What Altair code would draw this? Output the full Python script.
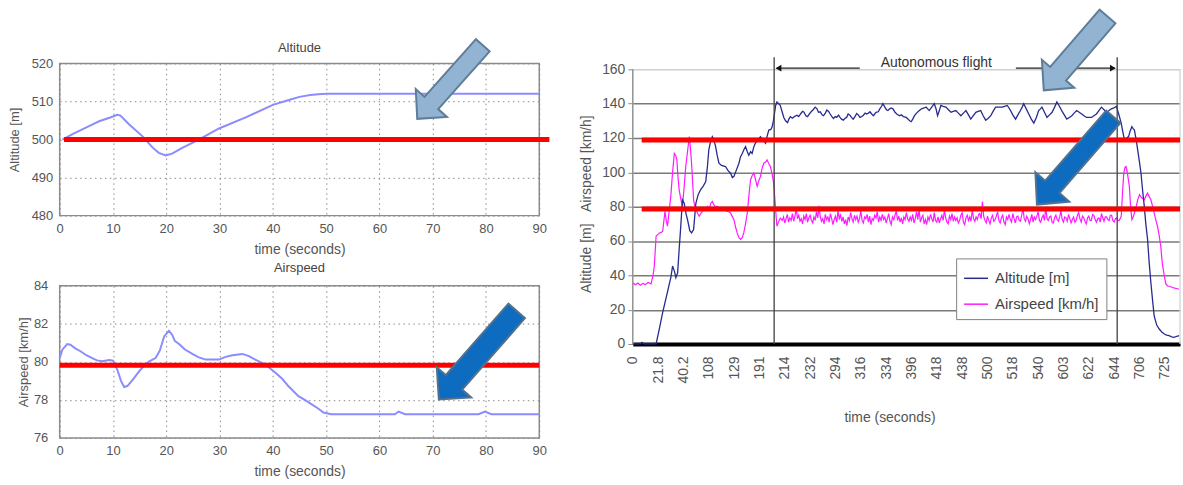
import altair as alt
import pandas as pd

# ---------------- simulation panels (left) ----------------
SIM_ALT_T = [0.5, 2.5, 5.5, 7.4, 9.5, 10.8, 11.4, 13.0, 15.5, 17.5, 18.6, 19.9, 21.1, 23.0,
             26.1, 29.9, 34.9, 40.0, 43.0, 45.0, 47.0, 48.5, 50.0, 60.0, 70.0, 80.0, 90.0]
SIM_ALT_V = [500.0, 501.5, 503.5, 504.8, 505.8, 506.5, 506.3, 504.0, 500.9, 497.8, 496.5, 495.8,
             496.3, 497.8, 500.0, 502.9, 505.8, 509.1, 510.4, 511.2, 511.7, 511.9, 512.0, 512.0,
             512.0, 512.0, 512.0]

SIM_AS_T = [0, 0.5, 1.4, 2, 3, 3.9, 5, 6.1, 7, 8, 9.3, 10, 10.8, 11.5, 12.1, 12.7, 13.8, 14.9,
            16, 16.8, 18, 18.8, 19.6, 20.5, 21.1, 21.6, 22.4, 23.5, 24.9, 26, 27.4, 29.9, 31,
            32.4, 34.3, 35.5, 36.7, 38.6, 40.5, 41.8, 42.9, 44.8, 46, 47.3, 48.5, 49.5, 51,
            62.9, 63.6, 64.8, 78.6, 79.8, 81, 90]
SIM_AS_V = [80.2, 80.64, 80.94, 80.9, 80.7, 80.56, 80.35, 80.2, 80.08, 80.03, 80.1, 80.07, 79.6,
            79.0, 78.68, 78.73, 79.1, 79.5, 79.85, 80.03, 80.2, 80.6, 81.34, 81.63, 81.43, 81.1,
            80.94, 80.65, 80.42, 80.25, 80.12, 80.12, 80.25, 80.35, 80.42, 80.3, 80.12, 79.86,
            79.43, 79.1, 78.73, 78.2, 78.0, 77.77, 77.55, 77.34, 77.25, 77.25, 77.39, 77.25,
            77.25, 77.39, 77.25, 77.25]

ALT_SETPOINT = 500
AS_SETPOINT = 79.82

# ---------------- flight log (right) ----------------
# x is the sample position on the category axis; labels are the logged times
FLIGHT_TICKS = ["0", "21.8", "40.2", "108", "129", "191", "214", "232", "294", "316", "334",
                "396", "418", "438", "500", "518", "540", "603", "622", "644", "706", "725"]

LOG_ALT = [
    (0, 0), (0.3, 0), (0.36, 1), (0.45, 0), (0.92, 0), (1.05, 9), (1.18, 18.4), (1.35, 29),
    (1.5, 38.6), (1.57, 45.4), (1.65, 42), (1.7, 38.6), (1.77, 41.5), (1.83, 55), (1.9, 70),
    (1.96, 84), (2.03, 82), (2.1, 76), (2.16, 72.5), (2.25, 66), (2.32, 64.7), (2.4, 66.7),
    (2.49, 82), (2.58, 87), (2.68, 90), (2.78, 92), (2.88, 94.7), (2.95, 104), (3.0, 113),
    (3.07, 118), (3.14, 120.8), (3.2, 119), (3.27, 115), (3.33, 110), (3.4, 105.3), (3.5, 104),
    (3.66, 103.4), (3.76, 101), (3.86, 99.5), (3.93, 97), (3.99, 97.6), (4.08, 101),
    (4.19, 105.3), (4.25, 109), (4.32, 111), (4.38, 113), (4.45, 115), (4.52, 112), (4.58, 110),
    (4.65, 112), (4.71, 111), (4.78, 115), (4.84, 117), (4.94, 119), (5.04, 120.8), (5.14, 119),
    (5.24, 117), (5.3, 121), (5.37, 124.6), (5.45, 125), (5.5, 126.6), (5.55, 130), (5.59, 134),
    (5.64, 139), (5.69, 141),
    # autonomous segment
    (5.82, 139), (5.9, 135), (5.96, 132), (6.03, 130), (6.11, 129), (6.16, 131), (6.22, 132.4),
    (6.3, 131.5), (6.38, 132.5), (6.48, 133.3), (6.55, 132.5), (6.62, 134), (6.7, 135.5),
    (6.76, 135), (6.83, 133), (6.9, 132.5), (6.97, 134), (7.05, 135.5), (7.12, 136.5), (7.2, 138),
    (7.27, 137), (7.33, 135), (7.4, 135.3), (7.47, 133.5), (7.53, 133), (7.6, 134.5),
    (7.66, 136.3), (7.73, 135.5), (7.79, 134), (7.86, 132.5), (7.92, 131.4), (7.99, 132.5),
    (8.05, 132), (8.12, 133.3), (8.18, 132), (8.24, 131), (8.31, 130.4), (8.38, 131.5),
    (8.44, 132), (8.5, 134), (8.57, 133.3), (8.63, 132), (8.7, 131), (8.77, 132.5),
    (8.84, 134.3), (8.9, 133.5), (8.97, 132), (9.04, 132.5), (9.1, 133.3), (9.17, 134.5),
    (9.23, 134), (9.3, 134.5), (9.36, 135.3), (9.43, 134), (9.5, 133), (9.6, 135), (9.69, 135.3),
    (9.75, 137), (9.82, 138.5), (9.87, 140), (9.95, 138), (10.01, 136.5), (10.07, 136),
    (10.14, 137), (10.2, 137.5), (10.27, 137), (10.35, 135), (10.42, 134), (10.53, 133),
    (10.6, 133.5), (10.68, 132.5), (10.79, 132), (10.87, 131), (10.93, 130), (10.99, 129.5),
    (11.05, 131), (11.12, 133), (11.2, 134.5), (11.31, 136), (11.4, 137), (11.5, 137.5),
    (11.58, 138), (11.64, 137), (11.7, 136), (11.8, 138), (11.9, 140), (11.97, 137),
    (12.03, 133), (12.1, 136), (12.16, 139), (12.25, 138.5), (12.36, 138), (12.46, 136.5),
    (12.56, 135), (12.65, 135.5), (12.75, 136), (12.85, 134.5), (12.95, 133), (13.05, 134.5),
    (13.15, 136), (13.25, 133.5), (13.34, 131), (13.44, 133), (13.54, 135), (13.63, 135.5),
    (13.73, 136), (13.83, 133), (13.93, 130.4), (14.03, 131.5), (14.13, 133), (14.22, 135.5),
    (14.32, 138), (14.45, 138), (14.58, 138), (14.68, 138.5), (14.78, 139), (14.85, 137.5),
    (14.91, 136), (15.0, 133.5), (15.11, 131), (15.2, 133.5), (15.3, 136), (15.37, 138),
    (15.43, 140), (15.53, 137), (15.63, 134), (15.73, 131), (15.83, 128.7), (15.93, 132),
    (16.02, 136), (16.09, 137), (16.15, 138), (16.25, 135), (16.35, 132), (16.45, 133.5),
    (16.55, 135), (16.65, 138), (16.74, 141), (16.84, 138.5), (16.93, 136), (17.03, 133.5),
    (17.13, 131), (17.23, 132), (17.33, 133), (17.42, 134.5), (17.52, 136), (17.62, 135),
    (17.72, 134), (17.81, 133), (17.91, 132), (18.01, 132), (18.11, 132), (18.2, 133),
    (18.3, 134), (18.4, 136), (18.5, 138), (18.6, 136.5), (18.7, 135), (18.8, 136),
    (18.89, 137), (18.99, 137.5), (19.09, 138.5), (19.14, 136),
    # landing
    (19.18, 134), (19.28, 128.5), (19.35, 123), (19.41, 118.8), (19.49, 120), (19.57, 120.8),
    (19.63, 124), (19.7, 126.6), (19.75, 125.5), (19.8, 124.6), (19.87, 119), (19.93, 113),
    (20.0, 106), (20.06, 99.5), (20.12, 90), (20.19, 80.2), (20.25, 70), (20.32, 60.9),
    (20.38, 48), (20.45, 35.7), (20.52, 25), (20.58, 16.4), (20.68, 11), (20.78, 8.7),
    (20.88, 7), (20.98, 5.8), (21.07, 5.2), (21.17, 4.8), (21.27, 4.2), (21.37, 3.9),
    (21.47, 4.5), (21.57, 4.8),
]

LOG_AS_TAKEOFF = [
    (0, 35.7), (0.1, 34.5), (0.2, 35.5), (0.3, 34.2), (0.4, 35.3), (0.5, 34.6), (0.6, 35.8),
    (0.72, 35), (0.8, 40), (0.85, 45.4), (0.92, 62.8), (1.0, 64), (1.05, 64.7), (1.12, 65),
    (1.18, 65.7), (1.23, 72), (1.27, 77.3), (1.32, 72), (1.37, 68.6), (1.44, 78), (1.5, 86),
    (1.57, 100), (1.64, 111), (1.69, 110), (1.74, 107.2), (1.78, 98), (1.83, 89.8), (1.9, 84),
    (1.96, 80.2), (2.03, 92), (2.09, 103.4), (2.16, 112), (2.23, 120.8), (2.27, 115),
    (2.32, 105.3), (2.36, 95), (2.4, 84), (2.45, 80), (2.49, 78.3), (2.56, 76), (2.62, 74.4),
    (2.68, 76), (2.75, 77.3), (2.82, 79), (2.88, 78.5), (2.95, 80.2), (3.02, 79), (3.08, 82),
    (3.14, 83.1), (3.2, 81), (3.27, 80), (3.34, 80.2), (3.42, 79), (3.5, 79.5), (3.6, 78.3),
    (3.7, 77.5), (3.78, 77), (3.86, 76.3), (3.92, 74.5), (3.99, 72.5), (4.06, 68), (4.12, 64.7),
    (4.19, 62), (4.25, 60.9), (4.32, 62), (4.38, 64.7), (4.45, 70), (4.52, 76.3), (4.58, 86),
    (4.65, 95.7), (4.71, 98), (4.78, 99.5), (4.84, 96), (4.91, 91.8), (4.97, 95), (5.04, 97.6),
    (5.1, 102), (5.17, 105.3), (5.24, 106), (5.3, 107.2), (5.37, 105), (5.43, 103.4), (5.5, 99),
    (5.56, 93.7), (5.6, 86), (5.63, 80.2), (5.66, 74), (5.69, 68.6), (5.75, 71), (5.82, 73.4),
]
# airspeed during autonomous flight, one sample every 0.05 positions from 5.9
AS_FLIGHT_START = 5.9
AS_FLIGHT_STEP = 0.05
LOG_AS_FLIGHT = [
    72, 74, 70.5, 73, 75.5, 71, 73.5, 72, 76, 71.5, 74.5, 79, 73, 75, 71.5, 73, 70, 74.5, 72.5, 76,
    71, 73.5, 75, 72, 70.5, 74, 72, 77, 73.5, 80.5, 74, 71.5, 73, 70, 75.5, 72.5, 74, 71, 76, 73,
    69.5, 72.5, 74.5, 71, 77.5, 73, 75, 71.5, 74, 70, 72.5, 69, 74, 72, 76.5, 73, 71, 75, 72.5, 74.5,
    71, 73, 77.5, 72, 70.5, 74, 73, 75.5, 71, 74.5, 69.5, 73, 72, 75, 73.5, 77, 71, 74, 72, 75.5,
    72.5, 74, 70.5, 73, 76, 71.5, 69.5, 74, 72.5, 75, 77.5, 72, 74.5, 71, 73.5, 70, 74, 72.5, 76.5, 73,
    71.5, 74, 72, 75.5, 70.5, 73, 77, 72.5, 78.5, 71, 73.5, 75, 70, 72.5, 69.5, 74, 72, 75.5, 73, 71,
    76.5, 72, 71, 74, 70.5, 73, 75, 72, 78, 73.5, 71, 70, 74.5, 72.5, 76, 71.5, 74, 72, 73.5, 70.5,
    72, 75, 76.5, 71, 69.5, 73.5, 75, 72, 74, 71.5, 78.5, 73, 71.5, 74, 72.5, 75.5, 76, 73, 83, 74.5,
    72, 70.5, 74.5, 72, 70, 73.5, 75, 71.5, 72.5, 74.5, 77, 72, 70.5, 73.5, 75, 71, 69.5, 74, 72.5, 75.5,
    72.5, 71, 76, 73, 70.5, 74, 74.5, 72, 71.5, 75, 79, 73, 71.5, 74.5, 73, 70, 72.5, 75.5, 71, 74,
    72.5, 74.5, 77, 72, 71, 73.5, 75, 72, 79.5, 73, 72, 74, 74.5, 71, 70.5, 73.5, 75, 72.5, 71.5, 74,
    77.5, 72.5, 71, 74, 73.5, 71.5, 75.5, 73, 70.5, 72.5, 74, 71, 72, 75, 76.5, 73, 71, 74.5, 73.5, 71.5,
    70, 73.5, 74.5, 72, 72, 75.5, 75, 72.5, 71, 73, 73.5, 71, 76, 73.5, 71.5, 74, 74, 72.5, 72, 75,
    75, 72, 71, 73, 73.5, 72,
]
LOG_AS_LANDING = [
    (19.2, 72), (19.28, 74.4), (19.33, 88), (19.38, 99.5), (19.43, 103), (19.47, 103.4),
    (19.53, 99), (19.6, 91.8), (19.65, 80), (19.7, 72.5), (19.75, 74), (19.8, 76.3),
    (19.87, 80), (19.93, 84), (20.0, 87), (20.04, 86), (20.1, 85), (20.19, 84), (20.25, 86),
    (20.32, 87.9), (20.38, 86), (20.45, 84), (20.52, 80), (20.58, 76.3), (20.65, 72),
    (20.71, 68.6), (20.78, 63), (20.84, 57), (20.9, 47), (20.98, 39.6), (21.04, 35),
    (21.11, 33.8), (21.2, 33.5), (21.3, 32.9), (21.4, 32.5), (21.5, 32.2), (21.57, 31.9),
]
LOG_SETPOINTS = [118.8, 78.7]
AUTO_START, AUTO_END = 5.58, 19.12
ALT_NAME, AS_NAME = "Altitude [m]", "Airspeed [km/h]"

# ---------------- styling ----------------
FONT = "Liberation Sans"
GREY_TXT = "#555555"
SIM_BLUE = "#8a8cff"
NAVY = "#262b8f"
MAGENTA = "#ff1aff"
RED = "#ff0000"
LIGHT_FILL, LIGHT_EDGE = "#93b3d3", "#5f7d99"
DARK_FILL, DARK_EDGE = "#0d6cc0", "#52718e"


def arrow_shape(length, shaft, head, head_len):
    """Block arrow pointing to +x inside the [-1, 1] symbol box."""
    h = length / 2.0
    s, w, b = shaft / 2.0 / h, head / 2.0 / h, 1 - head_len / h
    return (f"M -1 {-s:.3f} L {b:.3f} {-s:.3f} L {b:.3f} {-w:.3f} L 1 0 "
            f"L {b:.3f} {w:.3f} L {b:.3f} {s:.3f} L -1 {s:.3f} Z")


def block_arrow(xf, yf, xenc, yenc, x, y, length, angle, shaft, head, head_len, fill, edge):
    return alt.Chart(pd.DataFrame({xf: [x], yf: [y]})).mark_point(
        shape=arrow_shape(length, shaft, head, head_len), size=length ** 2, angle=angle,
        filled=True, fill=fill, stroke=edge, strokeWidth=2, opacity=1, fillOpacity=1,
    ).encode(x=xenc, y=yenc)


def sim_axes(ydom, yvals, ytitle, ylabpad, ytitlepad):
    x = alt.X("t:Q", scale=alt.Scale(domain=[0, 90], nice=False),
              axis=alt.Axis(values=list(range(0, 91, 10)), grid=True, gridDash=[1.5, 3.5],
                            gridColor="#8a8a8a", ticks=False, domain=False, labelFontSize=13,
                            labelColor=GREY_TXT, labelPadding=7, labelFlush=False,
                            labelOverlap=False, title="time (seconds)", titleFontSize=14,
                            titleFontWeight="normal", titleColor=GREY_TXT, titlePadding=7))
    y = alt.Y("v:Q", scale=alt.Scale(domain=ydom, nice=False, zero=False),
              axis=alt.Axis(values=yvals, grid=True, gridDash=[1.5, 3.5], gridColor="#8a8a8a",
                            ticks=False, domain=False, labelFontSize=13, labelColor=GREY_TXT,
                            labelPadding=ylabpad, labelOverlap=False, title=ytitle,
                            titleFontSize=13, titleFontWeight="normal", titleColor=GREY_TXT,
                            titlePadding=ytitlepad))
    return x, y


def sim_panel(ts, vs, ydom, yvals, ytitle, ylabpad, ytitlepad, setpoint, ref_from, ref_to,
              arrow, title, title_at):
    x, y = sim_axes(ydom, yvals, ytitle, ylabpad, ytitlepad)
    line = alt.Chart(pd.DataFrame({"t": ts, "v": vs})).mark_line(
        color=SIM_BLUE, strokeWidth=2).encode(x=x, y=y)
    ref = alt.Chart(pd.DataFrame({"t": [ref_from], "t2": [ref_to], "v": [setpoint]})).mark_rule(
        color=RED, strokeWidth=5).encode(x=x, x2="t2:Q", y=y)
    heading = alt.Chart(pd.DataFrame({"t": [45], "v": [title_at]})).mark_text(
        text=title, fontSize=13, color="#444444", font=FONT, baseline="middle").encode(x=x, y=y)
    pointer = block_arrow("t", "v", x, y, *arrow)
    return alt.layer(line, ref, heading, pointer).properties(
        width=W_L, height=H_L,
        view=alt.ViewBackground(stroke="#8c8c8c", strokeWidth=1.5),
    )


W_L, H_L = 482, 153

top = sim_panel(SIM_ALT_T, SIM_ALT_V, [480, 520], [480, 490, 500, 510, 520], "Altitude [m]",
                7, 10, ALT_SETPOINT, 0.8, 91.9,
                (73.25, 515.1, 99, 131.7, 18.4, 42, 21.3, LIGHT_FILL, LIGHT_EDGE),
                "Altitude", 524.0)
bottom = sim_panel(SIM_AS_T, SIM_AS_V, [76, 84], [76, 78, 80, 82, 84], "Airspeed [km/h]",
                   12, 3, AS_SETPOINT, 0, 90,
                   (78.46, 80.35, 118.5, 131.3, 22, 46, 23, DARK_FILL, DARK_EDGE),
                   "Airspeed", 84.93)

# ---------------- flight log chart ----------------
W_R, H_R = 550, 282
Y_TOP = 160 * H_R / (H_R - 6)
X_END = 21.6

as_pts = LOG_AS_TAKEOFF + [(AS_FLIGHT_START + i * AS_FLIGHT_STEP, v)
                           for i, v in enumerate(LOG_AS_FLIGHT)] + LOG_AS_LANDING
as_df = pd.DataFrame(as_pts, columns=["u", "v"]).assign(series=AS_NAME)
alt_df = pd.DataFrame(LOG_ALT, columns=["u", "v"]).assign(series=ALT_NAME)

label_expr = "[" + ",".join(f"'{t}'" for t in FLIGHT_TICKS) + "][datum.value]"
xr = alt.X("u:Q", scale=alt.Scale(domain=[0, X_END], nice=False, zero=False),
           axis=alt.Axis(values=list(range(len(FLIGHT_TICKS))), labelExpr=label_expr,
                         labelAngle=270, labelFontSize=14, labelColor=GREY_TXT, labelPadding=12,
                         labelOverlap=False, labelFlush=False, ticks=False, grid=False,
                         domainColor="#000000", domainWidth=4, title="time (seconds)",
                         titleFontSize=14, titleFontWeight="normal", titleColor=GREY_TXT,
                         titlePadding=28, titleX=258))
yr = alt.Y("v:Q", scale=alt.Scale(domain=[0, Y_TOP], nice=False),
           axis=alt.Axis(values=list(range(0, 161, 20)), grid=True,
                         gridColor=alt.condition("datum.value >= 160", alt.value("#cfcfcf"),
                                                 alt.value("#7a7a7a")),
                         gridWidth=1.5, domain=False, tickColor="#8a8a8a", tickSize=5,
                         labelFontSize=14, labelColor=GREY_TXT, labelPadding=3,
                         labelOverlap=False,
                         title="Altitude [m]\u00a0\u00a0\u00a0Airspeed [km/h]", titleFontSize=14,
                         titleFontWeight="normal", titleColor=GREY_TXT, titlePadding=8))
colour = alt.Color("series:N",
                   scale=alt.Scale(domain=[ALT_NAME, AS_NAME], range=[NAVY, MAGENTA]),
                   legend=alt.Legend(title=None, orient="none", legendX=325, legendY=196,
                                     symbolType="stroke", symbolSize=576, symbolStrokeWidth=1.5,
                                     labelFontSize=15, labelColor="#444444", labelFont=FONT,
                                     strokeColor="#808080", fillColor="white", padding=7,
                                     rowPadding=5, labelOffset=6))


def log_layer(df):
    return alt.Chart(df)


as_log = log_layer(as_df).mark_line(strokeWidth=1.2).encode(x=xr, y=yr, color=colour)
alt_log = log_layer(alt_df).mark_line(strokeWidth=1.3).encode(x=xr, y=yr, color=colour)

frame_lines = log_layer(pd.DataFrame({
    "u": [0, X_END], "v": [0, 0], "v2": [160, 160], "c": ["#8a8a8a", "#d6d6d6"]})).mark_rule(
    strokeWidth=1.4).encode(x=xr, y=yr, y2="v2:Q", color=alt.Color("c:N", scale=None))
phase_lines = log_layer(pd.DataFrame({
    "u": [AUTO_START, AUTO_END], "v": [0, 0], "v2": [167, 167]})).mark_rule(
    color="#404040", strokeWidth=1.3).encode(x=xr, y=yr, y2="v2:Q")
span_lines = log_layer(pd.DataFrame({
    "u": [AUTO_START + 0.1, 15.12], "u2": [8.96, AUTO_END - 0.1], "v": [160.7, 160.7]})).mark_rule(
    color="#222222", strokeWidth=1.3).encode(x=xr, x2="u2:Q", y=yr)
span_heads = log_layer(pd.DataFrame({
    "u": [AUTO_START + 0.17, AUTO_END - 0.17], "v": [160.7, 160.7],
    "s": ["triangle-left", "triangle-right"]})).mark_point(
    filled=True, color="#111111", size=45, opacity=1).encode(
    x=xr, y=yr, shape=alt.Shape("s:N", scale=None))
span_text = log_layer(pd.DataFrame({"u": [11.98], "v": [163.8]})).mark_text(
    text="Autonomous flight", fontSize=14, color="#333333", font=FONT).encode(x=xr, y=yr)
log_refs = log_layer(pd.DataFrame({
    "u": [0.35, 0.35], "u2": [X_END, X_END], "v": LOG_SETPOINTS})).mark_rule(
    color=RED, strokeWidth=5).encode(x=xr, x2="u2:Q", y=yr)

right = alt.layer(
    as_log, alt_log, frame_lines, phase_lines, span_lines, span_heads, span_text, log_refs,
    block_arrow("u", "v", xr, yr, 17.48, 169.3, 98, 130.8, 21, 43, 22, LIGHT_FILL, LIGHT_EDGE),
    block_arrow("u", "v", xr, yr, 17.46, 106.8, 117, 131.0, 19, 45, 23.6, DARK_FILL, DARK_EDGE),
).properties(
    width=W_R, height=H_R,
    view=alt.ViewBackground(stroke="transparent"),
)

chart = alt.hconcat(
    alt.vconcat(top, bottom, spacing=3.5),
    right,
    spacing=26,
).resolve_scale(color="independent", shape="independent").resolve_legend(
    color="independent").properties(
    padding={"left": 7, "top": 3.5, "right": 0, "bottom": 0},
    background="white",
).configure(font=FONT)

chart.save("out.html", embed_options={"renderer": "svg", "actions": False})
